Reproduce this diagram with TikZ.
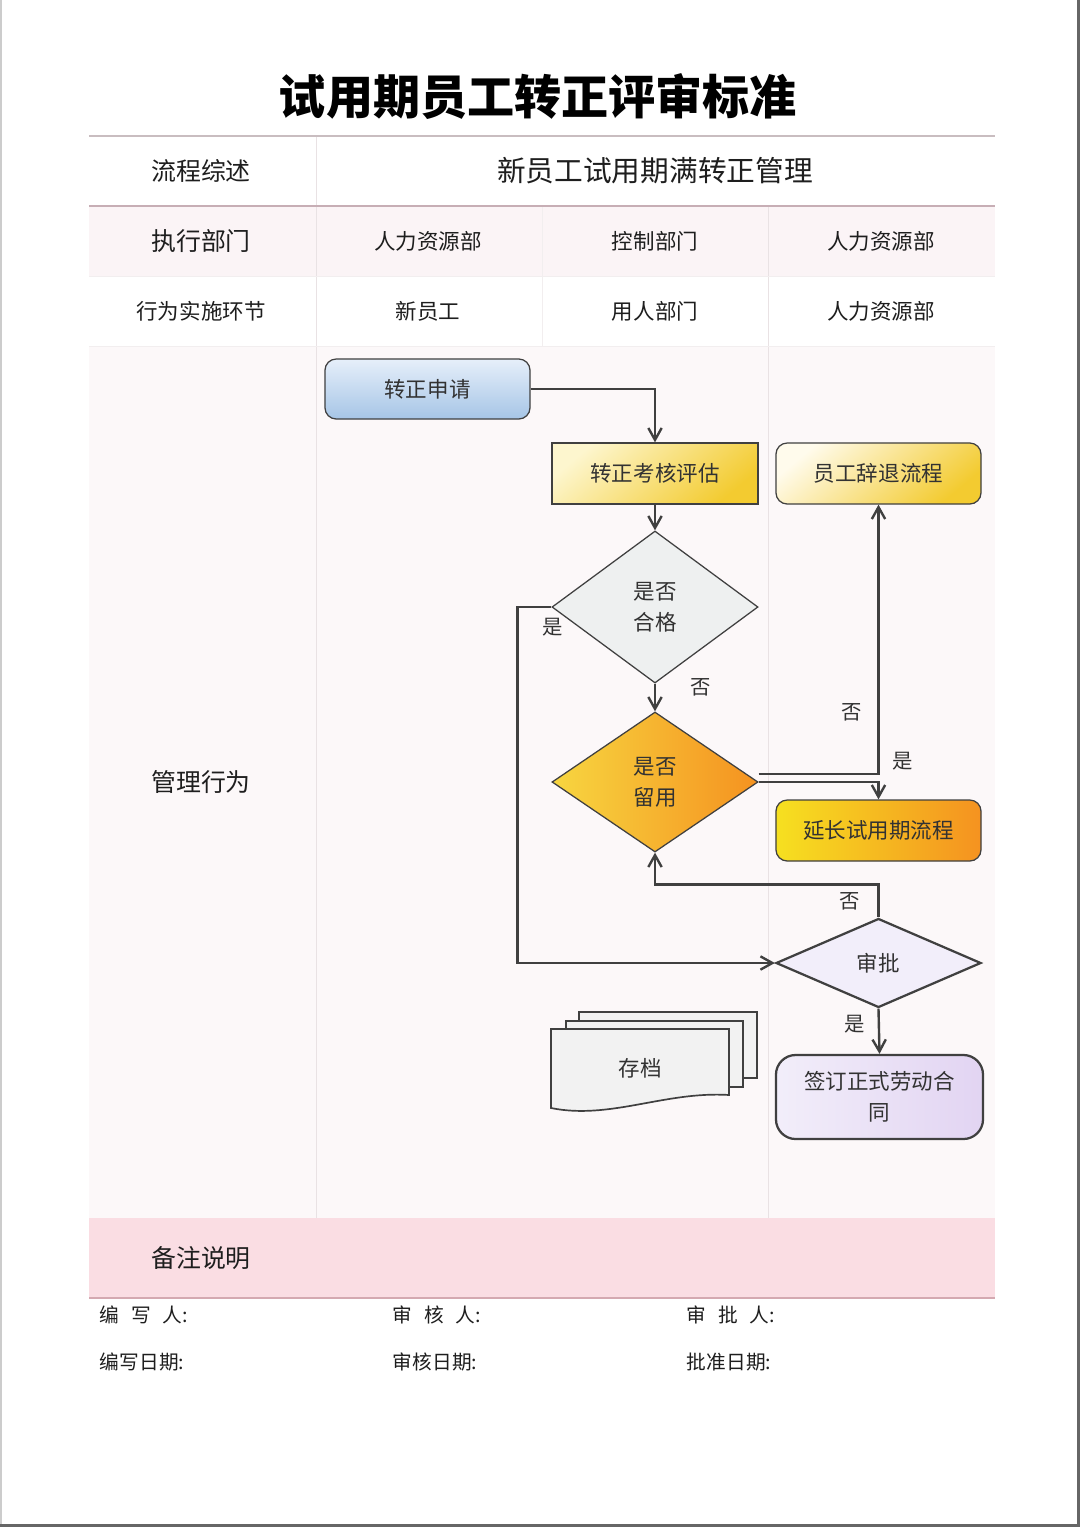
\documentclass[tikz,border=0pt]{standalone}
\usepackage{fontspec}
\setmainfont{Noto Sans CJK SC}
\usetikzlibrary{shapes.geometric,arrows.meta,positioning,calc}
\definecolor{lineGray}{RGB}{64,64,64}
\definecolor{txtDark}{RGB}{30,30,30}
\definecolor{txtFlow}{RGB}{50,50,50}
\definecolor{rowPink}{RGB}{251,244,246}
\definecolor{areaPink}{RGB}{252,248,249}
\definecolor{notePink}{RGB}{250,221,227}
\definecolor{ruleTop}{RGB}{201,189,192}
\definecolor{ruleMid}{RGB}{199,174,181}
\definecolor{ruleNote}{RGB}{212,169,177}
\definecolor{ruleSoft}{RGB}{233,226,228}
\definecolor{bLight}{RGB}{230,239,250}
\definecolor{bDeep}{RGB}{166,197,230}
\definecolor{yLight}{RGB}{253,246,206}
\definecolor{yDeep}{RGB}{243,203,48}
\definecolor{yPale}{RGB}{255,251,236}
\definecolor{oYellow}{RGB}{247,214,64}
\definecolor{oMid}{RGB}{253,232,190}
\definecolor{oDeep}{RGB}{245,146,32}
\definecolor{eYellow}{RGB}{246,224,32}
\definecolor{eMid}{RGB}{255,245,224}
\definecolor{gFill}{RGB}{238,240,240}
\definecolor{vLight}{RGB}{242,238,250}
\definecolor{vDeep}{RGB}{226,212,242}
\definecolor{docFill}{RGB}{242,242,242}

\tikzset{
    head/.style={font=\fontsize{17.7}{20}\selectfont, text=txtDark},
    cell/.style={font=\fontsize{15.3}{18}\selectfont, text=txtDark},
    foot/.style={font=\fontsize{14}{16}\selectfont, text=txtDark, anchor=west},
    box/.style={draw=lineGray, line width=0.9pt, inner sep=0pt,
        font=\fontsize{15.3}{22}\selectfont, text=txtFlow, align=center},
    decide/.style={box, diamond, aspect=1},
    flow/.style={draw=lineGray, line width=1.7pt,
        -{Straight Barb[length=8.5pt,width=9.5pt,line width=1.7pt]}},
    yesno/.style={font=\fontsize{14.5}{16}\selectfont, text=txtFlow}
}

\begin{document}
\begin{tikzpicture}[x=0.025cm, y=-0.025cm]
    \useasboundingbox (0,0) rectangle (1080,1527);
    \fill[white] (0,0) rectangle (1080,1527);
    % Page frame
    \draw[gray!40, line width=1.5pt] (1,0) -- (1,1524);
    \draw[gray!80!black, line width=1.5pt] (1078.5,0) -- (1078.5,1525.5) -- (0,1525.5);

    % Title
    \node (title) at (538,97) {\fontsize{33.5}{38}\selectfont\bfseries 试用期员工转正评审标准};

    % Row backgrounds
    \fill[rowPink] (89,206) rectangle (995,276);
    \fill[areaPink] (89,346) rectangle (995,1218);
    \fill[notePink] (89,1218) rectangle (995,1298);

    % Table rules
    \draw[ruleSoft, line width=0.6pt] (316,136) -- (316,1218);
    \draw[ruleSoft, line width=0.6pt] (768,206) -- (768,1218);
    \draw[ruleSoft!60, line width=0.5pt] (542,206) -- (542,346);
    \foreach \y in {276,346} {
        \draw[ruleSoft!60, line width=0.5pt] (89,\y) -- (995,\y);
    }
    \draw[ruleTop, line width=0.8pt] (89,136) -- (995,136);
    \draw[ruleMid, line width=1pt] (89,206) -- (995,206);
    \draw[ruleNote, line width=1pt] (89,1298) -- (995,1298);

    % Table texts
    \node[head] (summary) at (201,171) {流程综述};
    \node[font=\fontsize{20.4}{24}\selectfont, text=txtDark] (process) at (655,171) {新员工试用期满转正管理};
    \node[head] (dept) at (201,241) {执行部门};
    \node[cell] (deptA) at (428,241) {人力资源部};
    \node[cell] (deptB) at (655,241) {控制部门};
    \node[cell] (deptC) at (881,241) {人力资源部};
    \node[cell] (actor) at (201,311) {行为实施环节};
    \node[cell] (actorA) at (428,311) {新员工};
    \node[cell] (actorB) at (655,311) {用人部门};
    \node[cell] (actorC) at (881,311) {人力资源部};
    \node[head] (manage) at (201,782) {管理行为};
    \node[head] (note) at (201,1258) {备注说明};

    % Flow nodes
    \node[box, rounded corners=8, minimum width=5.125cm, minimum height=1.5cm,
        top color=bLight, bottom color=bDeep] (apply) at (427.5,389) {转正申请};
    \node[box, minimum width=5.15cm, minimum height=1.525cm,
        top color=yLight, bottom color=yDeep, shading angle=40] (assess) at (655,473.5) {转正考核评估};
    \node[box, rounded corners=8, minimum width=5.125cm, minimum height=1.525cm,
        top color=yPale, bottom color=yDeep, shading angle=40] (quit) at (878.5,473.5) {员工辞退流程};
    \node[decide, minimum width=5.15cm, minimum height=3.8cm, fill=gFill] (pass) at (655,607) {是否\\合格};
    \node[decide, minimum width=5.15cm, minimum height=3.5cm,
        left color=oYellow, middle color=oMid, right color=oDeep] (retain) at (655,782) {是否\\留用};
    \node[box, rounded corners=8, minimum width=5.125cm, minimum height=1.525cm,
        left color=eYellow, middle color=eMid, right color=oDeep] (extend) at (878.5,830.5) {延长试用期流程};
    \node[decide, line width=1.6pt, minimum width=5.125cm, minimum height=2.225cm, fill=vLight] (approve) at (878.5,963) {审批};
    \node[box, line width=1.6pt, rounded corners=14, minimum width=5.175cm, minimum height=2.1cm,
        left color=vLight, right color=vDeep] (sign) at (879.5,1097) {签订正式劳动合\\同};

    % Archive (stacked documents)
    \draw[lineGray, line width=1.2pt, fill=docFill] (579,1012) rectangle (757,1078);
    \draw[lineGray, line width=1.2pt, fill=docFill] (566,1021) rectangle (743,1087);
    \draw[lineGray, line width=1.2pt, fill=docFill] (551,1029) -- (729,1029) -- (729,1095)
        .. controls (665,1091) and (610,1120) .. (551,1108) -- cycle;
    \node[font=\fontsize{15.3}{18}\selectfont, text=txtFlow] (archive) at (640,1068) {存档};

    % Connectors
    \draw[flow] (apply.east) -| (assess.north);
    \draw[flow] (assess.south) -- (pass.north);
    \draw[flow] (pass.south) -- (retain.north);
    \draw[flow] (pass.west) -- ++(-34,0) |- (approve.west);
    \draw[flow] (retain.east) ++(0,-8) -| (quit.south);
    \draw[flow] (retain.east) -| (extend.north);
    \draw[flow] (approve.north) -- ++(0,-33) -| (retain.south);
    \draw[flow] (approve.south) -- (sign.north);

    % Branch labels
    \node[yesno] (passNo) at (701,687) {否};
    \node[yesno] (passYes) at (553,627) {是};
    \node[yesno] (retainNo) at (852,712) {否};
    \node[yesno] (retainYes) at (903,761) {是};
    \node[yesno] (approveNo) at (850,901) {否};
    \node[yesno] (approveYes) at (855,1024) {是};

    % Footer
    \node[foot] (writer) at (95,1315) {编\hspace{0.6em}写\hspace{0.6em}人:};
    \node[foot] (checker) at (388,1315) {审\hspace{0.6em}核\hspace{0.6em}人:};
    \node[foot] (approver) at (682,1315) {审\hspace{0.6em}批\hspace{0.6em}人:};
    \node[foot] (writeDate) at (95,1362) {编写日期:};
    \node[foot] (checkDate) at (388,1362) {审核日期:};
    \node[foot] (approveDate) at (682,1362) {批准日期:};
\end{tikzpicture}
\end{document}
